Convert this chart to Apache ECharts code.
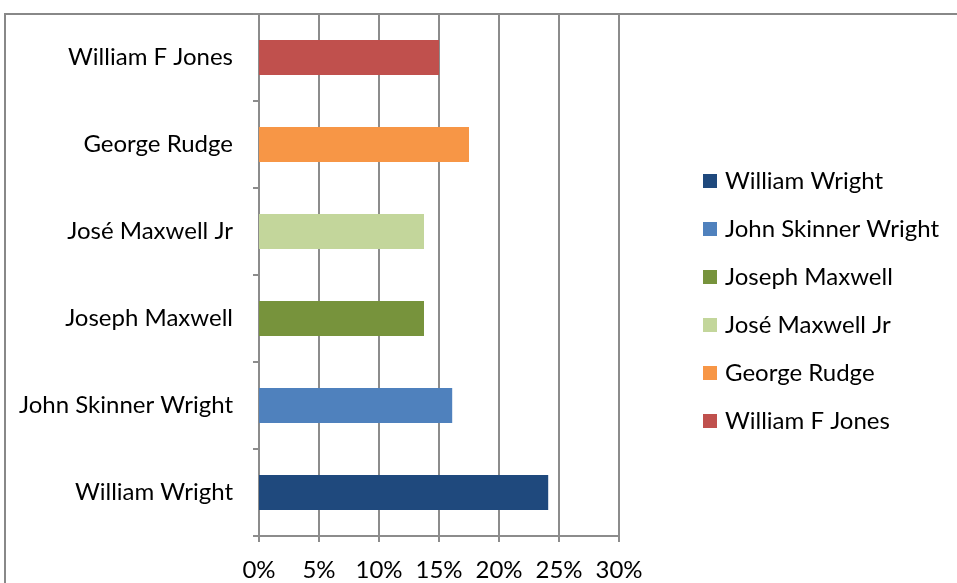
<!DOCTYPE html>
<html><head><meta charset="utf-8">
<script src="https://cdn.jsdelivr.net/npm/echarts@6/dist/echarts.min.js"></script>
<style>html,body{margin:0;padding:0;background:#fff}#c{width:957px;height:583px}</style>
</head><body><div id="c"></div>
<script>
const categories = ['William Wright','John Skinner Wright','Joseph Maxwell','José Maxwell Jr','George Rudge','William F Jones'];
const values = [24.1, 16.1, 13.75, 13.75, 17.5, 15.0];
const colors = ['#1F497D','#4F81BD','#77933C','#C3D69B','#F79646','#C0504D'];
const xTicks = [0,5,10,15,20,25,30];

const font = 'Lato, "Open Sans", sans-serif';
const series = categories.map((name, i) => ({
  name: name,
  type: 'bar',
  stack: 'all',
  barWidth: 35,
  itemStyle: { color: colors[i] },
  data: categories.map((c, j) => j === i ? values[i] : '-')
}));

const chart = echarts.init(document.getElementById('c'));
chart.setOption({
  animation: false,
  color: colors,
  grid: { left: 259, right: 338, top: 14, bottom: 47, containLabel: false },
  graphic: [{
    type: 'rect', z: -1,
    shape: { x: 5, y: 14, width: 1000, height: 700 },
    style: { fill: 'none', stroke: '#888', lineWidth: 2 }
  }],
  xAxis: {
    type: 'value', min: xTicks[0], max: xTicks[xTicks.length-1], interval: 5,
    axisLine: { show: true, lineStyle: { color: '#8c8c8c', width: 2 } },
    axisTick: { show: true, length: 6, lineStyle: { color: '#8c8c8c', width: 2 } },
    splitLine: { show: true, lineStyle: { color: '#8c8c8c', width: 2 } },
    axisLabel: { formatter: '{value}%', color: '#000', fontSize: 24, fontFamily: font, margin: 22 }
  },
  yAxis: {
    type: 'category', data: categories,
    axisLine: { show: true, lineStyle: { color: '#8c8c8c', width: 2 } },
    axisTick: { show: true, length: 6, lineStyle: { color: '#8c8c8c', width: 2 } },
    axisLabel: { color: '#000', fontSize: 24, fontFamily: font, margin: 26 }
  },
  legend: {
    orient: 'vertical', left: 698, top: 164,
    itemWidth: 14, itemHeight: 14, itemGap: 24,
    icon: 'rect',
    data: categories,
    textStyle: { color: '#000', fontSize: 24, fontFamily: font, padding: [0,0,0,3] }
  },
  series: series
});
</script></body></html>
